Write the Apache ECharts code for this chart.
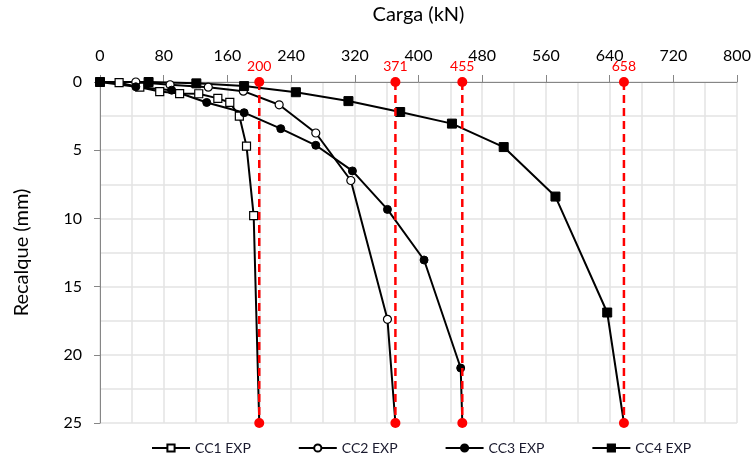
<!DOCTYPE html>
<html>
<head>
<meta charset="utf-8">
<script src="https://cdn.jsdelivr.net/npm/echarts@6/dist/echarts.min.js"></script>
<style>html,body{margin:0;padding:0;background:#fff}#c{width:755px;height:463px}</style>
</head>
<body>
<div id="c"></div>
<script>
// Load (kN) and settlement (mm) values
var cc1Load = [0, 24, 50, 75, 100, 124, 148, 163, 175, 184, 193, 200];
var cc1Settle = [0, 0.05, 0.38, 0.7, 0.85, 0.86, 1.2, 1.5, 2.5, 4.7, 9.8, 25];
var cc2Load = [0, 45, 88, 136, 180, 225, 271, 315, 361, 371];
var cc2Settle = [0, 0, 0.2, 0.38, 0.67, 1.67, 3.74, 7.22, 17.4, 25];
var cc3Load = [0, 45, 90, 134, 181, 227, 271, 317, 361, 407, 453, 455];
var cc3Settle = [0, 0.35, 0.6, 1.5, 2.25, 3.42, 4.64, 6.52, 9.34, 13.05, 20.97, 25];
var cc4Load = [0, 61, 121, 181, 246, 312, 377, 442, 507, 572, 637, 658];
var cc4Settle = [0, 0, 0.1, 0.3, 0.75, 1.4, 2.2, 3.05, 4.77, 8.4, 16.9, 25];
var seriesNames = ['CC1 EXP', 'CC2 EXP', 'CC3 EXP', 'CC4 EXP'];
var failureLoads = [200, 371, 455, 658];
var settleMin = 0, settleMax = 25;

var FONT = 'Lato';
function pairs(xs, ys) {
  return xs.map(function (x, i) {
    var item = { value: [x, ys[i]] };
    if (i === xs.length - 1) item.symbol = 'none';
    return item;
  });
}
function blackSeries(name, xs, ys, symbol, filled, size) {
  return {
    name: name, type: 'line', data: pairs(xs, ys),
    symbol: symbol, symbolSize: size, showSymbol: true,
    lineStyle: { color: '#000', width: 2 },
    itemStyle: filled ? { color: '#000', borderColor: '#000', borderWidth: 1 }
                      : { color: '#fff', borderColor: '#000', borderWidth: 1.2 },
    emphasis: { disabled: true }, z: 3, animation: false
  };
}
var series = [
  blackSeries(seriesNames[0], cc1Load, cc1Settle, 'rect', false, 8),
  blackSeries(seriesNames[1], cc2Load, cc2Settle, 'circle', false, 8),
  blackSeries(seriesNames[2], cc3Load, cc3Settle, 'circle', true, 8),
  blackSeries(seriesNames[3], cc4Load, cc4Settle, 'rect', true, 9)
];
failureLoads.forEach(function (L) {
  series.push({
    name: 'ruptura ' + L, type: 'line',
    data: [
      { value: [L, settleMin], label: { show: true, position: 'top', distance: 4, formatter: String(L), color: '#ff0000', fontSize: 14, fontFamily: FONT } },
      { value: [L, settleMax] }
    ],
    symbol: 'circle', symbolSize: 10,
    lineStyle: { color: '#ff0000', width: 2.5, type: [8, 5] },
    itemStyle: { color: '#ff0000' },
    emphasis: { disabled: true }, z: 4, animation: false
  });
});

var chart = echarts.init(document.getElementById('c'), null, { renderer: 'canvas' });
chart.setOption({
  animation: false,
  backgroundColor: '#fff',
  grid: { left: 100, right: 18, top: 82, bottom: 40 },
  xAxis: {
    type: 'value', position: 'top', min: 0, max: 800, interval: 80,
    name: 'Carga (kN)', nameLocation: 'middle', nameGap: 57,
    nameTextStyle: { fontSize: 20, color: '#000', fontFamily: FONT },
    axisLine: { show: true, lineStyle: { color: '#868686', width: 1 } },
    axisTick: { show: true, length: 7, lineStyle: { color: '#868686' } },
    axisLabel: { fontSize: 16, color: '#000', margin: 18, fontFamily: FONT },
    splitLine: { show: true, lineStyle: { color: '#e3e3e3', width: 1.5 } },
    minorTick: { show: false, splitNumber: 2 },
    minorSplitLine: { show: true, lineStyle: { color: '#e3e3e3', width: 1.5 } }
  },
  yAxis: {
    type: 'value', inverse: true, min: settleMin, max: settleMax, interval: 5,
    name: 'Recalque (mm)', nameLocation: 'middle', nameGap: 68,
    nameTextStyle: { fontSize: 20, color: '#000', fontFamily: FONT },
    axisLine: { show: true, lineStyle: { color: '#868686', width: 1 } },
    axisTick: { show: true, length: 6, lineStyle: { color: '#868686' } },
    axisLabel: { fontSize: 16, color: '#000', margin: 18, fontFamily: FONT },
    splitLine: { show: true, lineStyle: { color: '#e3e3e3', width: 1.5 } },
    minorTick: { show: false, splitNumber: 2 },
    minorSplitLine: { show: true, lineStyle: { color: '#e3e3e3', width: 1.5 } }
  },
  legend: {
    data: seriesNames, bottom: 3, left: 146, itemGap: 47,
    itemWidth: 38, itemHeight: 9,
    textStyle: { fontSize: 14, color: '#1a1a2e', fontFamily: FONT }
  },
  series: series
});
</script>
</body>
</html>
